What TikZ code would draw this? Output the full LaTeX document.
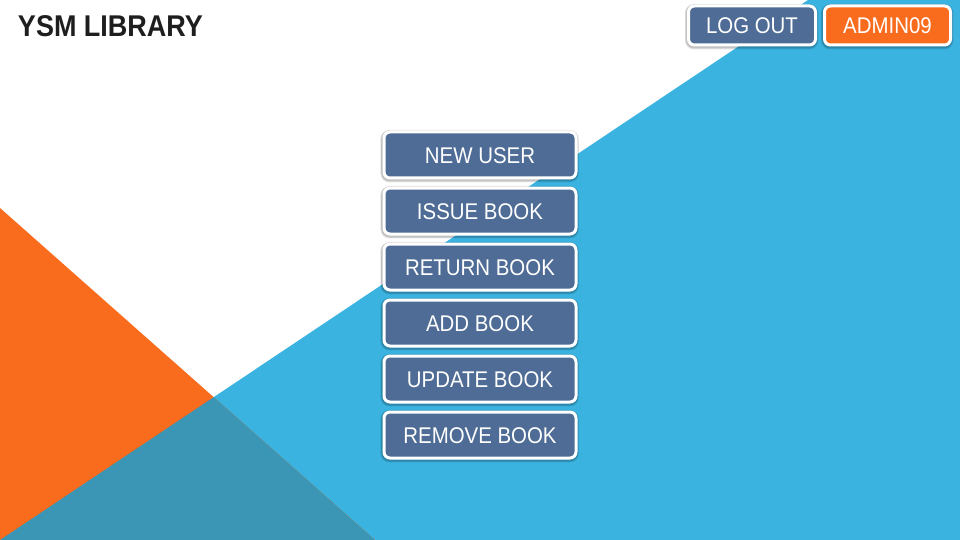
\documentclass[tikz,border=0pt]{standalone}
\usepackage{fontspec}
\setmainfont{Liberation Sans}[FakeStretch=0.9]
\definecolor{bgblue}{HTML}{3AB3E0}
\definecolor{bgorange}{HTML}{F96B1D}
\definecolor{overlapc}{HTML}{3A96B4}
\definecolor{btnblue}{HTML}{4E6C95}
\definecolor{titlec}{HTML}{1E1E1E}
\tikzset{
  btn/.style={draw=white, line width=3pt, fill=btnblue, rounded corners=6pt,
    minimum width=192pt, minimum height=46pt, text=white,
    font=\fontsize{22.7}{26}\selectfont, text height=16.2pt, text depth=0pt,
    inner sep=0pt,
    preaction={draw=black, draw opacity=0.10, line width=6.5pt,
      transform canvas={shift={(-0.4pt,-1.2pt)}}},
    preaction={draw=black, draw opacity=0.15, line width=5pt,
      transform canvas={shift={(-0.3pt,-1pt)}}}},
  topbtn/.style={btn, minimum height=39pt},
}
\begin{document}
\begin{tikzpicture}[x=1pt,y=-1pt]
\useasboundingbox (0,0) rectangle (960,540);
\fill[white] (0,0) rectangle (960,540);
\fill[bgblue] (0,540) -- (808,0) -- (960,0) -- (960,540) -- cycle;
\fill[bgorange] (0,208) -- (375,540) -- (0,540) -- cycle;
\fill[overlapc] (213.7,397.2) -- (375,540) -- (0,540) -- cycle;

\node[text=titlec, font=\bfseries\fontsize{30}{34}\selectfont, text height=21.5pt, text depth=0pt, inner sep=0pt] (title) at (110.5,26) {YSM LIBRARY};

\node[topbtn, minimum width=127pt] (logout) at (752,25.5) {LOG OUT};
\node[topbtn, minimum width=126pt, fill=bgorange] (admin) at (887.5,25.5) {ADMIN09};

\node[btn] (newuser) at (480,155) {NEW USER};
\node[btn] (issue) at (480,211) {ISSUE BOOK};
\node[btn] (return) at (480,267) {RETURN BOOK};
\node[btn] (add) at (480,323) {ADD BOOK};
\node[btn] (update) at (480,379) {UPDATE BOOK};
\node[btn] (remove) at (480,435) {REMOVE BOOK};
\end{tikzpicture}
\end{document}
